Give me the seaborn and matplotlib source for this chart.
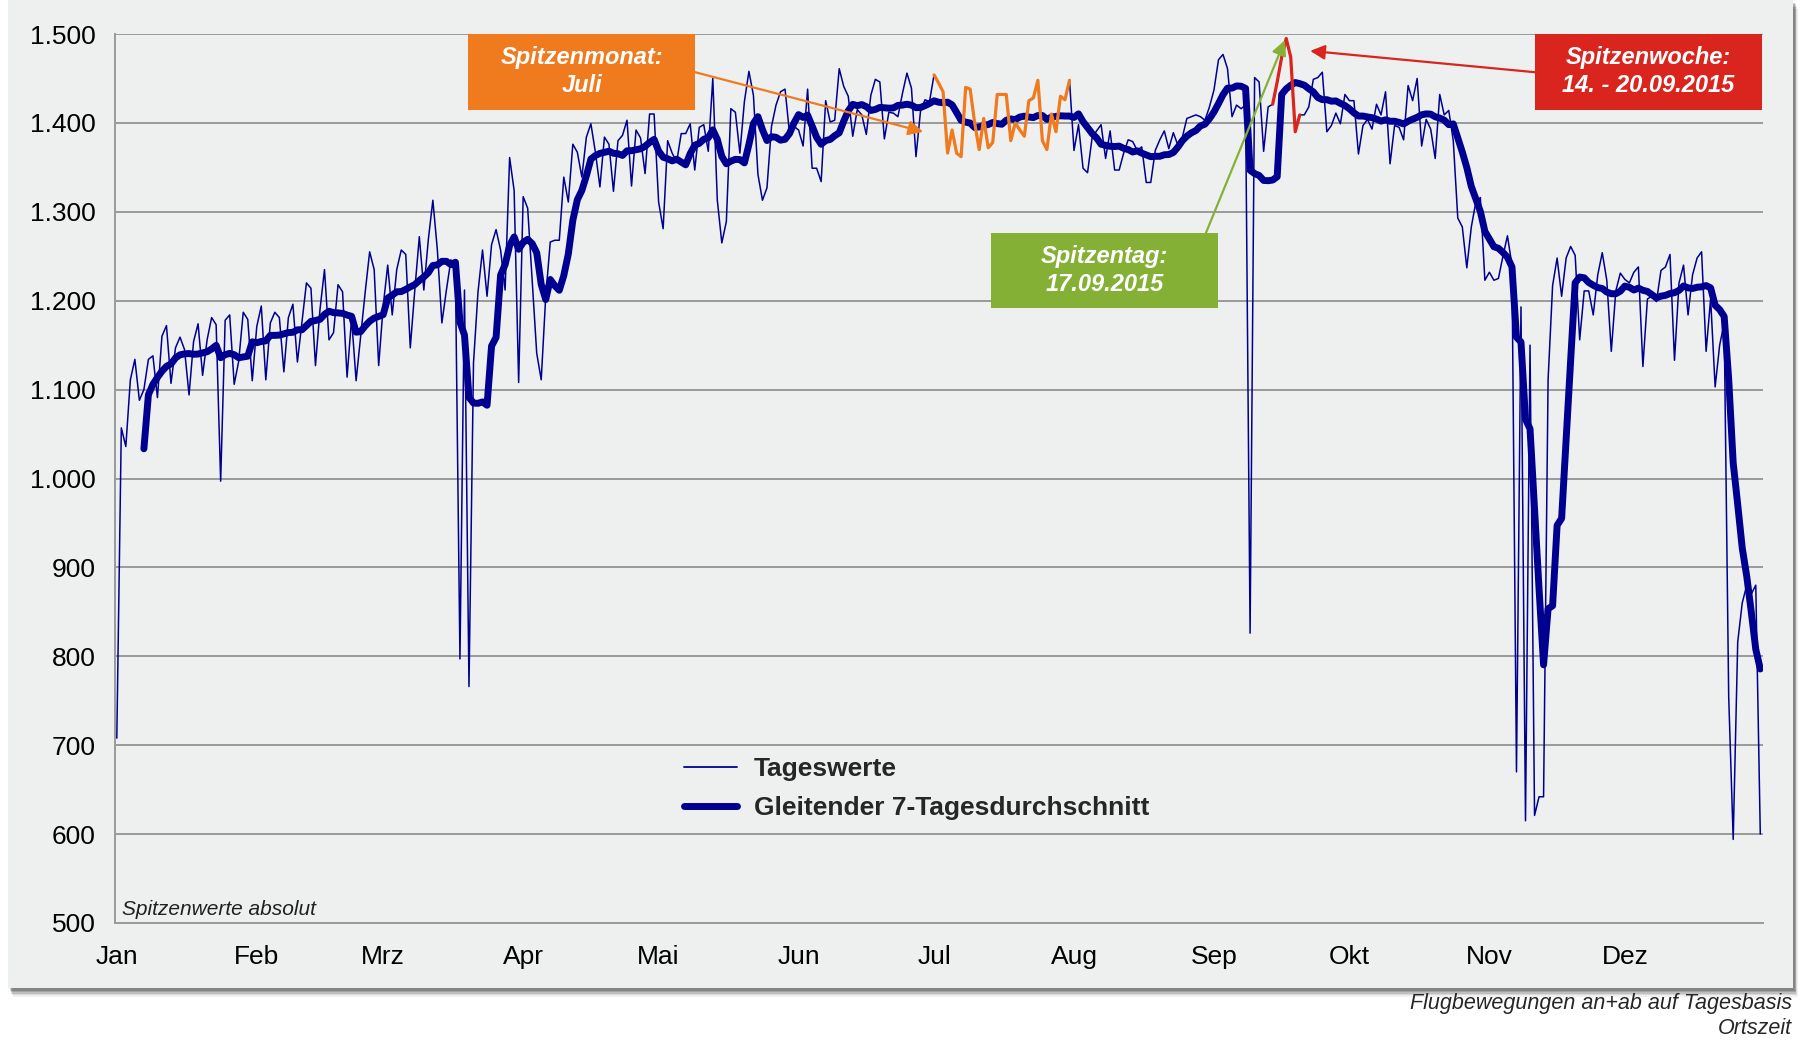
import numpy as np
import pandas as pd
import matplotlib.pyplot as plt
import seaborn as sns
from matplotlib.patches import Rectangle
from matplotlib.lines import Line2D

jan = [708, 1057, 1036, 1111, 1134, 1088, 1100, 1134, 1138, 1091, 1160, 1172, 1107, 1147, 1159, 1145,
       1094, 1154, 1174, 1116, 1156, 1181, 1173, 997, 1178, 1184, 1106, 1132, 1187, 1179, 1110]
feb = [1171, 1194, 1111, 1175, 1187, 1181, 1120, 1181, 1196, 1131, 1175, 1220, 1214, 1127, 1190, 1235,
       1156, 1164, 1218, 1210, 1114, 1180, 1110, 1160, 1209, 1255, 1235, 1127]
mrz = [1194, 1240, 1184, 1235, 1257, 1252, 1147, 1212, 1272, 1212, 1269, 1313, 1257, 1175, 1212, 1246,
       1231, 797, 1212, 766, 1130, 1210, 1257, 1205, 1263, 1280, 1257, 1212, 1361, 1324, 1108]
apr = [1317, 1304, 1223, 1141, 1111, 1205, 1266, 1268, 1268, 1339, 1311, 1376, 1367, 1339, 1384, 1399,
       1367, 1328, 1384, 1376, 1323, 1380, 1386, 1403, 1329, 1392, 1383, 1343, 1410, 1410]
mai = [1311, 1281, 1380, 1366, 1356, 1388, 1388, 1399, 1347, 1395, 1398, 1368, 1450, 1313, 1265, 1289,
       1416, 1412, 1366, 1424, 1458, 1431, 1342, 1313, 1327, 1396, 1420, 1435, 1438, 1388, 1396]
jun = [1392, 1374, 1438, 1349, 1349, 1334, 1425, 1401, 1403, 1461, 1441, 1430, 1385, 1415, 1409, 1387,
       1431, 1449, 1446, 1382, 1412, 1411, 1407, 1433, 1456, 1439, 1362, 1413, 1426, 1424]
jul = [1454, 1445, 1435, 1366, 1392, 1366, 1362, 1440, 1438, 1400, 1370, 1405, 1372, 1378, 1432, 1432,
       1432, 1380, 1400, 1392, 1385, 1425, 1428, 1448, 1380, 1370, 1410, 1390, 1430, 1426, 1448]
aug = [1369, 1398, 1349, 1344, 1383, 1391, 1398, 1360, 1391, 1347, 1347, 1366, 1381, 1379, 1369, 1373,
       1333, 1333, 1369, 1381, 1391, 1371, 1389, 1375, 1384, 1405, 1407, 1409, 1407, 1403, 1418]
sep = [1437, 1471, 1477, 1461, 1407, 1420, 1416, 1420, 826, 1451, 1446, 1368, 1418, 1421, 1446, 1474,
       1495, 1474, 1390, 1409, 1409, 1418, 1449, 1451, 1457, 1390, 1397, 1411, 1399, 1432]
okt = [1425, 1425, 1365, 1397, 1404, 1393, 1421, 1409, 1435, 1354, 1397, 1395, 1381, 1442, 1425, 1450,
       1374, 1404, 1393, 1360, 1432, 1409, 1414, 1380, 1293, 1283, 1237, 1283, 1311, 1316, 1223]
nov = [1232, 1223, 1225, 1250, 1273, 1240, 670, 1193, 615, 1150, 621, 642, 642, 1111, 1217, 1248,
       1205, 1248, 1261, 1251, 1156, 1211, 1211, 1184, 1229, 1254, 1223, 1143, 1211, 1231]
dez = [1224, 1220, 1232, 1238, 1126, 1202, 1205, 1199, 1234, 1238, 1252, 1133, 1220, 1240, 1184, 1229,
       1248, 1255, 1143, 1202, 1103, 1150, 1175, 755, 594, 816, 860, 880, 870, 880, 600]

monate = ['Jan', 'Feb', 'Mrz', 'Apr', 'Mai', 'Jun', 'Jul', 'Aug', 'Sep', 'Okt', 'Nov', 'Dez']
y_ticks = [500, 600, 700, 800, 900, 1000, 1100, 1200, 1300, 1400, 1500]

# Tabelle aufbauen
alle_monate = [jan, feb, mrz, apr, mai, jun, jul, aug, sep, okt, nov, dez]
werte = sum(alle_monate, [])
monatsanfang = list(np.cumsum([0] + [len(m) for m in alle_monate[:-1]]))
df = pd.DataFrame({'tag': np.arange(len(werte)), 'wert': werte})
df['schnitt'] = df['wert'].rolling(7).mean()

juli = df[(df['tag'] >= monatsanfang[6]) & (df['tag'] < monatsanfang[7])]
spitzenwoche = df[(df['tag'] >= monatsanfang[8] + 13) & (df['tag'] <= monatsanfang[8] + 19)]
spitzentag = df.loc[df['wert'].idxmax()]

# Farben
blau = '#000090'
orange = '#F07A1E'
gruen = '#84B135'
rot = '#D9251D'
grau_bg = '#EEF0F0'

sns.set_theme(style='white')
plt.rcParams['font.family'] = ['Liberation Sans', 'DejaVu Sans']

fig = plt.figure(figsize=(18.03, 10.40), dpi=100)
fig.patch.set_facecolor('white')
W, H = 1803, 1040
# Hintergrundflaeche mit weichem Schatten
for i, a in enumerate([0.06, 0.09, 0.12, 0.15, 0.18]):
    off = 9 - i * 1.6
    fig.patches.append(Rectangle(((8 + off * 0.6) / W, 1 - (988 + off) / H), 1785 / W, 988 / H,
                                 transform=fig.transFigure, facecolor='black', alpha=a,
                                 edgecolor='none', zorder=-3))
fig.patches.append(Rectangle((8 / W, 1 - 988 / H), 1785 / W, 988 / H, transform=fig.transFigure,
                             facecolor=grau_bg, edgecolor='none', zorder=-2))

ax = fig.add_axes([115 / W, 1 - 923 / H, 1648 / W, 889 / H])
ax.set_facecolor(grau_bg)

sns.lineplot(data=df, x='tag', y='wert', ax=ax, color=blau, lw=1.1, zorder=3)
sns.lineplot(data=df, x='tag', y='schnitt', ax=ax, color=blau, lw=5, zorder=4)
sns.lineplot(data=juli, x='tag', y='wert', ax=ax, color=orange, lw=2.3, zorder=5)
sns.lineplot(data=spitzenwoche, x='tag', y='wert', ax=ax, color=rot, lw=2.3, zorder=5)

ax.set_xlim(-0.4, 364.6)
ax.set_ylim(500, 1500)
ax.set_yticks(y_ticks)
ax.set_yticklabels([f'{v:,}'.replace(',', '.') for v in y_ticks])
ax.set_xticks(monatsanfang)
ax.set_xticklabels(monate)
ax.tick_params(axis='both', length=0, labelsize=19, colors='black')
ax.tick_params(axis='y', pad=14)
ax.tick_params(axis='x', pad=16)
ax.set_xlabel('')
ax.set_ylabel('')
ax.grid(axis='y', color='#9A9A9A', lw=1.4)
ax.set_axisbelow(True)
for s in ['top', 'right']:
    ax.spines[s].set_visible(False)
for s in ['left', 'bottom']:
    ax.spines[s].set_color('#9A9A9A')
    ax.spines[s].set_linewidth(1.4)

# Legende
handles = [Line2D([], [], color=blau, lw=1.3), Line2D([], [], color=blau, lw=5)]
ax.legend(handles, ['Tageswerte', 'Gleitender 7-Tagesdurchschnitt'], loc='upper left',
          bbox_to_anchor=(0.331, 0.213), frameon=False, handlelength=2.0, handletextpad=0.65,
          labelspacing=0.55, prop={'weight': 'bold', 'size': 19})


# Beschriftungskaesten mit Pfeilen
def kasten(x0, x1, y0, y1, farbe, text):
    ax.add_patch(Rectangle((x0, y0), x1 - x0, y1 - y0, facecolor=farbe, edgecolor='none',
                           zorder=8, clip_on=False))
    ax.text((x0 + x1) / 2, (y0 + y1) / 2, text, ha='center', va='center', color='white',
            fontsize=17, fontweight='bold', style='italic', zorder=9, linespacing=1.3)


def pfeil(start, ziel, farbe):
    ax.annotate('', xy=ziel, xytext=start, zorder=7,
                arrowprops=dict(arrowstyle='-|>', color=farbe, lw=1.6, mutation_scale=22,
                                shrinkA=0, shrinkB=0))


kasten(77.8, 128.1, 1415, 1500, orange, 'Spitzenmonat:\nJuli')
pfeil((128.1, 1457), (178.6, 1390), orange)

kasten(193.6, 243.9, 1192, 1276, gruen, 'Spitzentag:\n17.09.2015')
pfeil((241.2, 1276), (spitzentag['tag'] - 0.3, spitzentag['wert'] - 2), gruen)

kasten(314.1, 364.4, 1415, 1500, rot, 'Spitzenwoche:\n14. - 20.09.2015')
pfeil((314.1, 1457), (264.3, 1481), rot)

ax.text(0.004, 0.004, 'Spitzenwerte absolut', transform=ax.transAxes, ha='left', va='bottom',
        fontsize=15, style='italic', color='#202020')
fig.text(1792 / W, 1 - 1004 / H, 'Flugbewegungen an+ab auf Tagesbasis', ha='right', va='center',
         fontsize=15.5, style='italic')
fig.text(1792 / W, 1 - 1029 / H, 'Ortszeit', ha='right', va='center', fontsize=15.5, style='italic')

fig.savefig('out.png', dpi=100, facecolor='white')
